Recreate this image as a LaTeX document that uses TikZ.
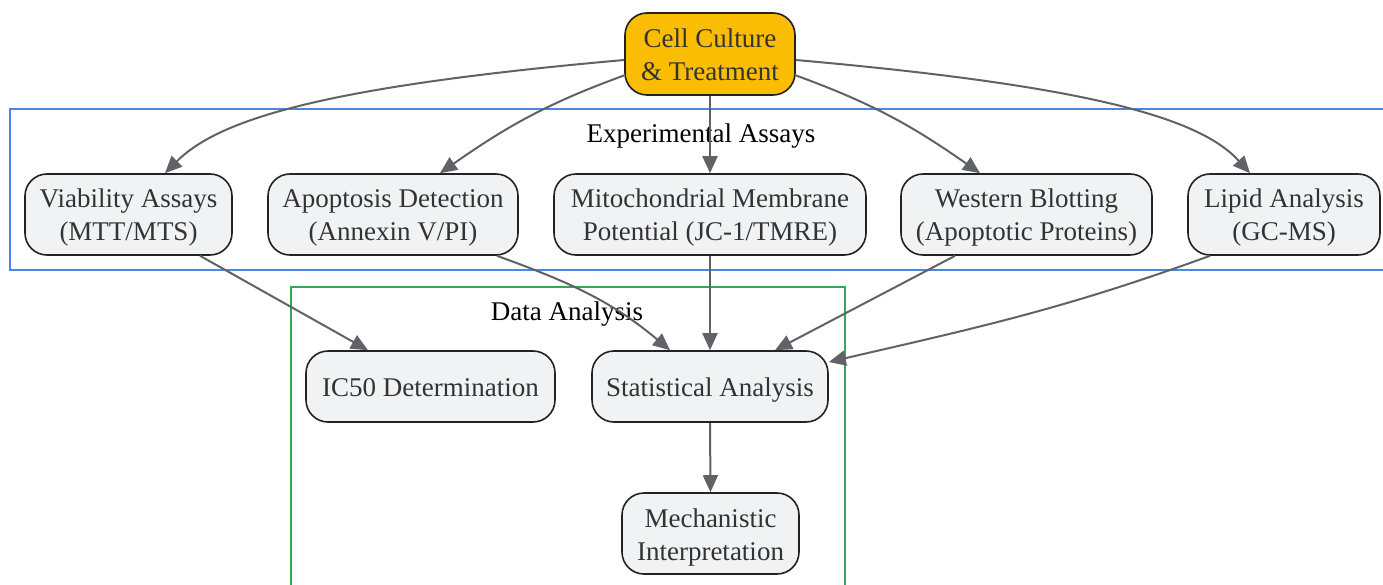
\documentclass[tikz,border=0pt]{standalone}
\usepackage{fontspec}
\setmainfont{Liberation Serif}
\usetikzlibrary{arrows.meta}
\definecolor{edgec}{HTML}{5F6368}
\definecolor{boxline}{HTML}{222222}
\definecolor{boxfill}{HTML}{F1F2F4}
\definecolor{cellfill}{HTML}{FBBC04}
\definecolor{textc}{HTML}{333333}
\definecolor{bluec}{HTML}{4A86E8}
\definecolor{greenc}{HTML}{34A853}
\newcommand{\hstrut}{\rule{0pt}{26pt}}
\newcommand{\dstrut}{\rule[-6pt]{0pt}{6pt}}
\begin{document}
\begin{tikzpicture}[x=1pt,y=-1pt,
  box/.style={draw=boxline, fill=boxfill, line width=1.6pt, rounded corners=22pt,
    align=center, inner sep=0pt, text=textc, font=\fontsize{27}{33}\selectfont},
  conn/.style={draw=edgec, line width=2pt, -{Triangle[length=17pt,width=15pt]}},
  clusterlabel/.style={inner sep=0pt, anchor=base, text=black, font=\fontsize{27}{33}\selectfont},
  bluebox/.style={draw=bluec, line width=1.6pt},
  greenbox/.style={draw=greenc, line width=1.6pt}]
\clip (0,0) rectangle (1383,585);
% clusters
\draw[bluebox] (10,109) rectangle (1400,270);
\node[clusterlabel] (explabel) at (701,143) {Experimental Assays};
\draw[greenbox] (291,287) rectangle (845,600);
\node[clusterlabel] (datalabel) at (567,320) {Data Analysis};
% nodes
\node[box, fill=cellfill, minimum width=170pt, minimum height=82pt] (cell) at (710,54) {\hstrut Cell Culture\\\& Treatment\dstrut};
\node[box, minimum width=207pt, minimum height=81pt] (viab) at (128.5,214.5) {\hstrut Viability Assays\\(MTT/MTS)\dstrut};
\node[box, minimum width=250pt, minimum height=81pt] (apop) at (393,214.5) {\hstrut Apoptosis Detection\\(Annexin V/PI)\dstrut};
\node[box, minimum width=312pt, minimum height=81pt] (mito) at (710,214.5) {\hstrut Mitochondrial Membrane\\Potential (JC-1/TMRE)\dstrut};
\node[box, minimum width=251pt, minimum height=81pt] (west) at (1026.5,214.5) {\hstrut Western Blotting\\(Apoptotic Proteins)\dstrut};
\node[box, minimum width=192pt, minimum height=81pt] (lipid) at (1284,214.5) {\hstrut Lipid Analysis\\(GC-MS)\dstrut};
\node[box, minimum width=249pt, minimum height=71pt] (ic50) at (430.5,386.5) {\hstrut IC50 Determination\dstrut};
\node[box, minimum width=236pt, minimum height=71pt] (stat) at (710,386.5) {\hstrut Statistical Analysis\dstrut};
\node[box, minimum width=177pt, minimum height=81pt] (mech) at (710.5,533.5) {\hstrut Mechanistic\\Interpretation\dstrut};
% edges
\draw[conn] (cell.184) .. controls (330,86) and (220,118) .. ([xshift=36.5pt]viab.north);
\draw[conn] (cell.194) to[out=200, in=35] ([xshift=47pt]apop.north);
\draw[conn] (cell.south) -- (mito.north);
\draw[conn] (cell.346) to[out=-20, in=145] ([xshift=-46.5pt]west.north);
\draw[conn] (cell.356) .. controls (1090,86) and (1200,118) .. ([xshift=-34pt]lipid.north);
\draw[conn] ([xshift=71.5pt]viab.south) -- ([xshift=-62.5pt]ic50.north);
\draw[conn] ([xshift=104pt]apop.south) to[out=-20, in=140] ([xshift=-40pt]stat.north);
\draw[conn] (mito.south) -- (stat.north);
\draw[conn] ([xshift=-71.5pt]west.south) -- ([xshift=65pt]stat.north);
\draw[conn] ([xshift=-74pt]lipid.south) to[out=-160, in=13] ([yshift=24.5pt]stat.east);
\draw[conn] (stat.south) -- (mech.north);
\end{tikzpicture}
\end{document}
